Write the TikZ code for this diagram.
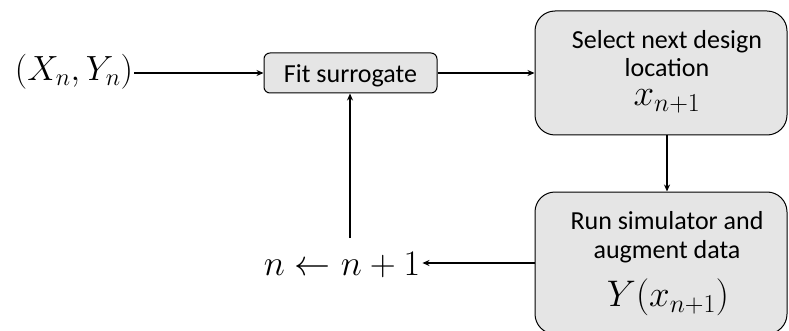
\RequirePackage{fix-cm}
\documentclass[tikz,border=0pt]{standalone}
\usepackage{fontspec}
\setmainfont{Carlito}
\usetikzlibrary{arrows.meta}
\begin{document}
\begin{tikzpicture}[x=1pt,y=-1pt,
  box/.style={draw=black, line width=1pt, fill=gray!20, rounded corners=#1, inner sep=0pt, align=center},
  conn/.style={line width=1.8pt, -{Stealth[length=7pt,width=6pt]}},
  txt/.style={anchor=base, inner sep=0pt, font=\fontsize{26}{30}\selectfont},
  mathlbl/.style={anchor=base, inner sep=0pt, font=\fontsize{#1}{#1}\selectfont}]
\useasboundingbox (0,0) rectangle (789,331);
\clip (0,0) rectangle (789,331);
\node[mathlbl=35] (xy) at (74,80.7) {$(X_n,Y_n)$};
\node[box=6pt, minimum width=173pt, minimum height=40pt] (fit) at (350.5,73) {};
\node[txt] (fitt) at (350.5,83) {Fit surrogate};
\node[box=20pt, minimum width=252pt, minimum height=124pt] (sel) at (661,73) {};
\node[txt] (selt) at (667,49) {Select next design};
\node[txt] (selt2) at (667,77) {location};
\node[mathlbl=37] (selm) at (667,106) {$x_{n+1}$};
\node[box=20pt, minimum width=252pt, minimum height=142pt] (run) at (661,263) {};
\node[txt] (runt) at (667,229) {Run simulator and};
\node[txt] (runt2) at (667,258) {augment data};
\node[mathlbl=37] (runm) at (668,306.7) {$Y(x_{n+1})$};
\node[mathlbl=36] (inc) at (342,275) {$n\leftarrow n+1$};
\coordinate (runW) at (535,263);
\draw[conn] ([xshift=1pt]xy.east |- fit.west) -- (fit.west);
\draw[conn] (fit.east) -- (sel.west);
\draw[conn] (sel.south -| 667,0) -- (run.north -| 667,0);
\draw[conn] (runW) -- ([xshift=2pt]inc.east |- runW);
\draw[conn] (350,238) -- (fit.south -| 350,0);
\end{tikzpicture}
\end{document}
